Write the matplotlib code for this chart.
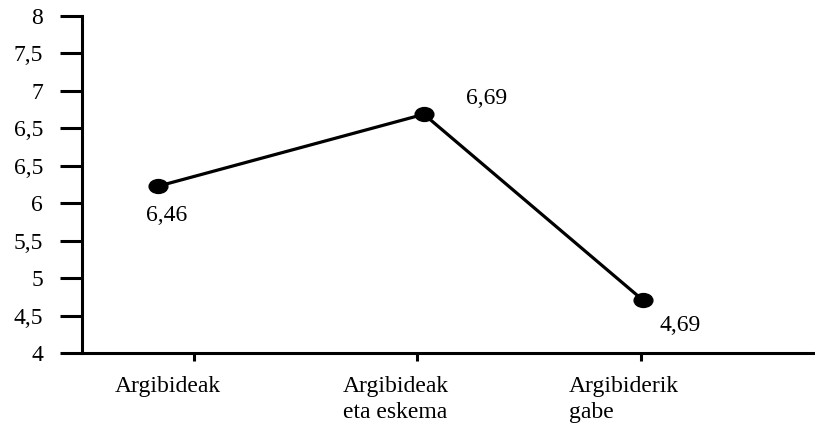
import matplotlib.pyplot as plt
from matplotlib.markers import MarkerStyle
from matplotlib.transforms import Affine2D

plt.rcParams['font.family'] = ['Liberation Serif', 'DejaVu Serif']

# y axis ticks are equally spaced, labels as printed (6,5 appears twice)
y_labels = ["4", "4,5", "5", "5,5", "6", "6,5", "6,5", "7", "7,5", "8"]
categories = ["Argibideak", "Argibideak\neta eskema", "Argibiderik\ngabe"]
values = ["6,46", "6,69", "4,69"]
# where the points sit, in tick units
point_x = [-0.16, 1.03, 2.01]
point_y = [4.45, 6.37, 1.41]

fs = 17

fig = plt.figure(figsize=(8.15, 4.24), dpi=100)
ax = fig.add_axes([82/815, 71/424, 1 - 82/815, (353 - 15.7)/424])

mk = MarkerStyle('o', transform=Affine2D().scale(1.35, 1.0))
ax.plot(point_x, point_y, color='black', lw=2.3, marker=mk, ms=10)

label_off = [(6, -21), (45, 11), (27, -18)]
for x, y, v, (dx, dy) in zip(point_x, point_y, values, label_off):
    ax.annotate(v, (x, y), xytext=(dx, dy), textcoords='offset points',
                ha='center', va='center', fontsize=fs)

ax.set_ylim(0, 9)
ax.set_xlim(-0.5, 2.78)
ax.set_yticks(range(10))
ax.set_yticklabels(y_labels, fontsize=fs)
ax.set_xticks([0, 1, 2])
ax.set_xticklabels([])

cat_x = [-0.354, 0.668, 1.677]
for x, c in zip(cat_x, categories):
    ax.text(x, -0.62, c, ha='left', va='top', fontsize=fs, linespacing=1.3)

for s in ['top', 'right']:
    ax.spines[s].set_visible(False)
ax.spines['left'].set_linewidth(2.2)
ax.spines['bottom'].set_linewidth(2.2)
ax.tick_params(axis='y', length=16, width=2.2, pad=12)
ax.tick_params(axis='x', length=6, width=2.2)

fig.savefig('out.png', dpi=100)
